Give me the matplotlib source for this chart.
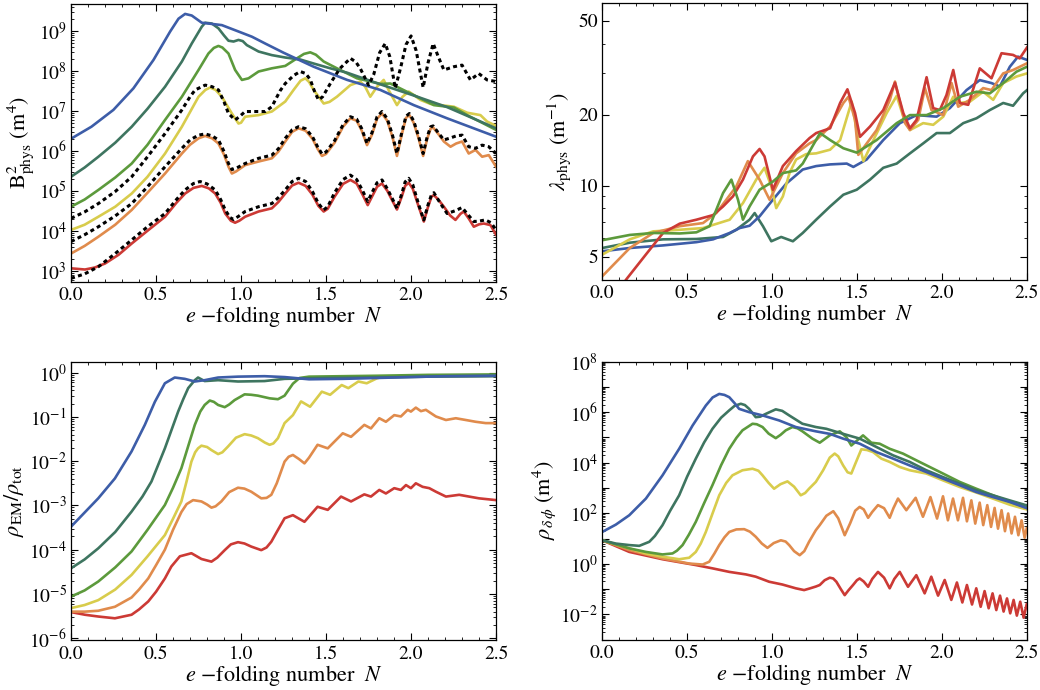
import numpy as np
import matplotlib
matplotlib.use("Agg")
import matplotlib.pyplot as plt
from matplotlib.ticker import (FixedLocator, FuncFormatter, LogLocator,
                               NullFormatter, MultipleLocator)

plt.rcParams["font.family"] = ["STIXGeneral", "DejaVu Serif"]
plt.rcParams["mathtext.fontset"] = "stix"
plt.rcParams["axes.linewidth"] = 0.9

C_BLUE = "#3D5DA8"
C_TEAL = "#3E7560"
C_GREEN = "#5C9A3C"
C_YELLOW = "#D8CC4C"
C_ORANGE = "#E08B4C"
C_RED = "#CC3A35"

# ---- panel 1: B^2_phys, values stored as log10 ----
b2_blue_N = [0, 0.12, 0.249, 0.367, 0.485, 0.583, 0.632, 0.671, 0.71, 0.769, 0.828, 0.887, 0.985, 1.064, 1.142, 1.25, 1.427, 1.624, 1.819, 2.016, 2.212, 2.5]
b2_blue = [6.30, 6.60, 7.02, 7.56, 8.27, 8.98, 9.30, 9.42, 9.38, 9.20, 9.17, 9.14, 8.98, 8.85, 8.68, 8.45, 8.10, 7.77, 7.52, 7.14, 6.81, 6.35]
b2_teal_N = [0, 0.08, 0.161, 0.26, 0.357, 0.45, 0.553, 0.652, 0.71, 0.769, 0.789, 0.828, 0.867, 0.90, 0.926, 0.956, 0.985, 1.01, 1.034, 1.103, 1.181, 1.26, 1.348, 1.427, 1.525, 1.624, 1.819, 2.016, 2.212, 2.5]
b2_teal = [5.35, 5.58, 5.85, 6.20, 6.60, 7.05, 7.60, 8.23, 8.68, 9.10, 9.20, 9.18, 9.06, 8.88, 8.75, 8.73, 8.77, 8.74, 8.64, 8.48, 8.39, 8.33, 8.28, 8.18, 8.06, 7.95, 7.66, 7.38, 7.09, 6.56]
b2_green_N = [0, 0.08, 0.161, 0.26, 0.357, 0.45, 0.553, 0.652, 0.75, 0.808, 0.84, 0.867, 0.89, 0.926, 0.965, 1.005, 1.044, 1.103, 1.181, 1.26, 1.329, 1.37, 1.407, 1.44, 1.486, 1.564, 1.682, 1.819, 1.878, 2.016, 2.134, 2.252, 2.33, 2.5]
b2_green = [4.60, 4.78, 5.02, 5.33, 5.68, 6.15, 6.77, 7.35, 8.02, 8.43, 8.57, 8.62, 8.58, 8.43, 8.02, 7.77, 7.81, 7.98, 8.06, 8.12, 8.31, 8.42, 8.46, 8.40, 8.23, 8.06, 7.81, 7.67, 7.68, 7.39, 7.14, 7.08, 6.89, 6.52]
b2_yellow_N = [0, 0.08, 0.161, 0.26, 0.357, 0.45, 0.553, 0.652, 0.75, 0.79, 0.818, 0.85, 0.887, 0.946, 0.985, 1.0, 1.024, 1.103, 1.181, 1.26, 1.309, 1.35, 1.378, 1.40, 1.427, 1.486, 1.52, 1.564, 1.643, 1.702, 1.73, 1.76, 1.80, 1.839, 1.87, 1.917, 1.95, 1.986, 2.02, 2.055, 2.114, 2.252, 2.33, 2.408, 2.447, 2.5]
b2_yellow = [4.02, 4.15, 4.35, 4.60, 4.93, 5.35, 5.93, 6.60, 7.35, 7.52, 7.58, 7.52, 7.35, 6.93, 6.68, 6.70, 6.85, 6.89, 6.98, 7.23, 7.52, 7.75, 7.81, 7.72, 7.52, 7.18, 7.22, 7.35, 7.64, 7.73, 7.60, 7.35, 7.60, 7.77, 7.50, 7.14, 7.35, 7.48, 7.38, 7.27, 7.17, 7.10, 6.95, 6.89, 6.73, 6.62]
b2_orange_N = [0, 0.08, 0.161, 0.26, 0.357, 0.45, 0.553, 0.652, 0.70, 0.75, 0.789, 0.83, 0.867, 0.90, 0.926, 0.946, 0.97, 1.024, 1.103, 1.181, 1.22, 1.26, 1.30, 1.338, 1.38, 1.42, 1.45, 1.476, 1.50, 1.55, 1.60, 1.643, 1.68, 1.71, 1.741, 1.77, 1.80, 1.829, 1.86, 1.89, 1.917, 1.945, 1.97, 1.99, 2.015, 2.045, 2.071, 2.095, 2.115, 2.13, 2.16, 2.193, 2.232, 2.265, 2.30, 2.339, 2.379, 2.418, 2.457, 2.5]
b2_orange = [3.43, 3.62, 3.85, 4.15, 4.52, 4.95, 5.43, 5.93, 6.15, 6.31, 6.37, 6.31, 6.18, 5.90, 5.60, 5.43, 5.48, 5.64, 5.73, 5.81, 5.98, 6.23, 6.47, 6.56, 6.50, 6.30, 6.05, 5.87, 5.92, 6.20, 6.60, 6.81, 6.75, 6.50, 6.14, 6.40, 6.80, 6.93, 6.75, 6.35, 5.87, 6.40, 6.82, 6.89, 6.70, 6.30, 5.87, 6.30, 6.55, 6.58, 6.42, 6.23, 6.10, 6.18, 6.23, 5.93, 6.02, 5.85, 5.89, 5.60]
b2_dot_mid = [3.73, 3.90, 4.10, 4.37, 4.68, 5.10, 5.60, 6.06, 6.27, 6.39, 6.42, 6.37, 6.27, 5.98, 5.68, 5.53, 5.56, 5.68, 5.81, 5.89, 6.05, 6.31, 6.52, 6.60, 6.55, 6.35, 6.10, 5.92, 5.97, 6.25, 6.65, 6.85, 6.79, 6.55, 6.18, 6.45, 6.85, 6.98, 6.80, 6.40, 5.93, 6.45, 6.86, 6.93, 6.75, 6.35, 5.93, 6.35, 6.60, 6.62, 6.45, 6.27, 6.32, 6.37, 6.39, 6.10, 6.06, 6.14, 6.10, 5.93]
b2_red_N = [0, 0.082, 0.14, 0.2, 0.28, 0.357, 0.45, 0.553, 0.62, 0.671, 0.72, 0.769, 0.81, 0.848, 0.88, 0.907, 0.94, 0.965, 0.99, 1.024, 1.103, 1.181, 1.22, 1.26, 1.30, 1.338, 1.38, 1.42, 1.455, 1.486, 1.51, 1.55, 1.60, 1.643, 1.68, 1.715, 1.745, 1.77, 1.80, 1.829, 1.86, 1.89, 1.917, 1.945, 1.965, 1.986, 2.01, 2.045, 2.075, 2.10, 2.12, 2.134, 2.16, 2.193, 2.23, 2.261, 2.29, 2.31, 2.34, 2.369, 2.40, 2.428, 2.467, 2.5]
b2_red = [3.06, 3.03, 3.08, 3.18, 3.40, 3.68, 4.00, 4.35, 4.70, 4.93, 5.07, 5.12, 5.06, 4.93, 4.70, 4.43, 4.25, 4.20, 4.25, 4.35, 4.48, 4.56, 4.72, 4.93, 5.13, 5.20, 5.12, 4.90, 4.62, 4.48, 4.55, 4.85, 5.17, 5.27, 5.18, 4.90, 4.64, 4.85, 5.10, 5.18, 5.00, 4.75, 4.53, 4.85, 5.12, 5.20, 5.05, 4.60, 4.23, 4.60, 4.85, 4.89, 4.78, 4.60, 4.38, 4.27, 4.42, 4.48, 4.30, 4.10, 4.16, 4.18, 4.14, 3.90]
b2_dot_bot_N = [0, 0.08, 0.161, 0.26, 0.357, 0.45, 0.553, 0.62, 0.671, 0.72, 0.759, 0.80, 0.848, 0.88, 0.907, 0.935, 0.956, 0.985, 1.024, 1.103, 1.181, 1.22, 1.26, 1.30, 1.338, 1.38, 1.42, 1.455, 1.486, 1.51, 1.55, 1.60, 1.643, 1.68, 1.715, 1.745, 1.77, 1.80, 1.829, 1.86, 1.89, 1.917, 1.945, 1.965, 1.986, 2.01, 2.045, 2.075, 2.10, 2.12, 2.134, 2.17, 2.212, 2.26, 2.30, 2.335, 2.369, 2.40, 2.437, 2.47, 2.5]
b2_dot_bot = [2.81, 2.92, 3.10, 3.43, 3.77, 4.10, 4.43, 4.78, 5.02, 5.18, 5.23, 5.17, 5.02, 4.78, 4.52, 4.33, 4.28, 4.36, 4.48, 4.60, 4.68, 4.83, 5.02, 5.23, 5.31, 5.23, 4.98, 4.68, 4.52, 4.60, 4.95, 5.28, 5.39, 5.28, 5.00, 4.73, 4.95, 5.20, 5.27, 5.05, 4.80, 4.56, 4.92, 5.22, 5.31, 5.15, 4.65, 4.27, 4.65, 4.90, 4.95, 4.70, 4.43, 4.50, 4.58, 4.40, 4.23, 4.24, 4.27, 4.20, 4.02]
b2_dot_top_N = [0, 0.08, 0.161, 0.26, 0.357, 0.45, 0.553, 0.652, 0.70, 0.73, 0.789, 0.83, 0.867, 0.90, 0.926, 0.965, 0.99, 1.024, 1.142, 1.181, 1.23, 1.26, 1.309, 1.348, 1.38, 1.407, 1.435, 1.456, 1.48, 1.525, 1.58, 1.643, 1.675, 1.702, 1.75, 1.78, 1.815, 1.848, 1.875, 1.907, 1.94, 1.97, 2.0, 2.03, 2.071, 2.10, 2.13, 2.16, 2.193, 2.252, 2.30, 2.349, 2.398, 2.447, 2.5]
b2_dot_top = [4.31, 4.47, 4.68, 4.98, 5.35, 5.85, 6.43, 7.02, 7.35, 7.52, 7.64, 7.60, 7.52, 7.22, 6.93, 6.77, 6.85, 6.98, 6.98, 7.10, 7.50, 7.68, 7.88, 7.98, 7.93, 7.78, 7.45, 7.27, 7.35, 7.68, 8.05, 8.31, 8.22, 8.05, 7.64, 7.90, 8.45, 8.68, 8.35, 7.56, 8.10, 8.65, 8.87, 8.50, 7.58, 8.20, 8.68, 8.35, 8.02, 8.10, 8.14, 7.77, 7.93, 7.77, 7.73]

# ---- panel 2: lambda_phys (m^-1) ----
lam_red_N = [0.0, 0.143, 0.26, 0.358, 0.456, 0.554, 0.652, 0.711, 0.769, 0.828, 0.887, 0.926, 0.955, 1.004, 1.063, 1.141, 1.220, 1.259, 1.341, 1.400, 1.443, 1.488, 1.517, 1.576, 1.654, 1.723, 1.772, 1.811, 1.850, 1.909, 1.948, 1.987, 2.026, 2.066, 2.105, 2.154, 2.222, 2.291, 2.350, 2.418, 2.457, 2.5]
lam_red = [2.9, 4.02, 5.14, 6.30, 6.9, 7.17, 7.5, 8.16, 9.0, 10.6, 13.3, 14.3, 13.3, 9.6, 12.1, 14.0, 15.9, 16.7, 17.5, 22.4, 25.6, 20.3, 16.1, 17.8, 20.9, 27.3, 20.3, 17.5, 19.0, 28.8, 21.3, 20.9, 24.2, 30.9, 22.4, 22.0, 31.4, 28.5, 36.4, 35.8, 34.6, 38.5]
lam_orange_N = [0, 0.162, 0.300, 0.456, 0.593, 0.671, 0.789, 0.857, 0.926, 0.985, 1.063, 1.141, 1.220, 1.259, 1.341, 1.419, 1.449, 1.488, 1.507, 1.615, 1.693, 1.723, 1.782, 1.811, 1.860, 1.899, 1.938, 2.007, 2.056, 2.095, 2.164, 2.242, 2.291, 2.360, 2.418, 2.5]
lam_orange = [4.13, 5.44, 6.30, 6.73, 6.94, 7.65, 9.92, 12.7, 10.6, 8.71, 11.3, 13.7, 15.1, 15.6, 17.8, 22.4, 23.8, 19.0, 13.5, 17.2, 23.1, 27.6, 18.4, 17.2, 19.0, 25.9, 20.9, 19.9, 27.2, 21.6, 23.1, 25.9, 25.4, 29.9, 30.9, 33.0]
lam_yellow_N = [0, 0.162, 0.300, 0.456, 0.593, 0.750, 0.828, 0.906, 0.955, 0.995, 1.024, 1.063, 1.102, 1.141, 1.200, 1.259, 1.341, 1.400, 1.468, 1.507, 1.537, 1.596, 1.674, 1.733, 1.772, 1.811, 1.889, 1.948, 2.007, 2.066, 2.105, 2.164, 2.242, 2.301, 2.360, 2.438, 2.5]
lam_yellow = [5.10, 5.92, 6.40, 6.50, 6.61, 7.17, 8.43, 10.6, 11.9, 9.92, 8.03, 9.0, 11.3, 12.9, 13.6, 13.7, 14.2, 15.6, 22.7, 15.6, 12.7, 15.6, 20.3, 24.0, 19.6, 17.2, 18.4, 18.1, 19.6, 23.8, 22.4, 22.7, 25.0, 23.1, 27.2, 29.0, 29.9]
lam_green_N = [0, 0.162, 0.300, 0.456, 0.554, 0.632, 0.711, 0.760, 0.799, 0.828, 0.867, 0.926, 1.004, 1.063, 1.141, 1.180, 1.24, 1.282, 1.341, 1.419, 1.498, 1.615, 1.733, 1.811, 1.909, 2.007, 2.105, 2.203, 2.281, 2.360, 2.438, 2.5]
lam_green = [5.87, 6.18, 6.30, 6.27, 6.34, 6.73, 9.30, 10.6, 8.71, 7.17, 8.16, 9.61, 10.4, 11.3, 11.6, 12.4, 14.8, 16.7, 15.6, 14.4, 13.8, 15.6, 18.4, 19.9, 19.9, 21.3, 23.8, 25.0, 24.6, 27.2, 30.4, 31.9]
lam_blue_N = [0, 0.162, 0.358, 0.554, 0.652, 0.750, 0.809, 0.867, 0.926, 1.004, 1.083, 1.180, 1.259, 1.341, 1.439, 1.478, 1.556, 1.654, 1.752, 1.850, 1.968, 2.046, 2.144, 2.222, 2.291, 2.340, 2.399, 2.447, 2.5]
lam_blue = [5.27, 5.44, 5.58, 5.76, 5.92, 6.30, 6.61, 6.76, 7.41, 8.71, 10.2, 11.7, 12.1, 12.3, 12.4, 12.0, 12.9, 15.6, 18.4, 19.9, 19.6, 21.3, 25.4, 28.0, 27.2, 26.3, 31.9, 35.2, 34.1]
lam_teal_N = [0, 0.162, 0.358, 0.554, 0.711, 0.789, 0.867, 0.897, 0.946, 0.995, 1.053, 1.122, 1.180, 1.259, 1.341, 1.419, 1.498, 1.576, 1.654, 1.733, 1.811, 1.889, 1.968, 2.046, 2.125, 2.203, 2.281, 2.360, 2.418, 2.477, 2.5]
lam_teal = [5.44, 5.73, 5.92, 5.94, 6.06, 6.50, 7.17, 7.65, 6.73, 5.81, 6.06, 5.81, 6.30, 7.17, 8.16, 9.15, 9.61, 10.6, 11.9, 12.4, 13.7, 15.1, 16.7, 16.7, 18.4, 19.3, 20.9, 22.4, 21.8, 24.6, 25.4]

# ---- panel 3: rho_EM / rho_tot, log10 ----
rem_blue_N = [0, 0.160, 0.258, 0.356, 0.434, 0.493, 0.552, 0.610, 0.669, 0.728, 0.786, 0.865, 0.982, 1.138, 1.256, 1.40, 1.6, 1.8, 2.0, 2.2, 2.5]
rem_blue = [-3.48, -2.84, -2.39, -1.78, -1.18, -0.66, -0.24, -0.11, -0.14, -0.20, -0.17, -0.11, -0.09, -0.08, -0.10, -0.15, -0.14, -0.12, -0.10, -0.08, -0.07]
rem_teal_N = [0, 0.08, 0.160, 0.26, 0.356, 0.42, 0.473, 0.552, 0.630, 0.66, 0.689, 0.728, 0.747, 0.786, 0.865, 0.982, 1.138, 1.256, 1.5, 1.8, 2.1, 2.5]
rem_teal = [-4.42, -4.22, -3.97, -3.60, -3.14, -2.80, -2.46, -1.71, -0.88, -0.60, -0.35, -0.17, -0.11, -0.19, -0.17, -0.20, -0.19, -0.14, -0.12, -0.11, -0.09, -0.08]
rem_green_N = [0, 0.08, 0.160, 0.26, 0.356, 0.45, 0.552, 0.60, 0.649, 0.69, 0.728, 0.76, 0.786, 0.816, 0.84, 0.865, 0.904, 0.93, 0.962, 1.021, 1.06, 1.099, 1.168, 1.217, 1.256, 1.305, 1.344, 1.40, 1.6, 1.8, 2.1, 2.5]
rem_green = [-5.06, -4.92, -4.72, -4.40, -4.04, -3.55, -2.99, -2.60, -2.16, -1.65, -1.18, -0.88, -0.73, -0.63, -0.66, -0.73, -0.78, -0.72, -0.62, -0.49, -0.50, -0.52, -0.58, -0.60, -0.52, -0.25, -0.12, -0.09, -0.08, -0.07, -0.05, -0.04]
rem_yellow_N = [0, 0.08, 0.160, 0.26, 0.356, 0.45, 0.552, 0.60, 0.649, 0.68, 0.708, 0.73, 0.747, 0.767, 0.80, 0.826, 0.865, 0.89, 0.923, 0.97, 1.021, 1.06, 1.099, 1.14, 1.168, 1.19, 1.217, 1.256, 1.305, 1.353, 1.406, 1.475, 1.524, 1.592, 1.631, 1.690, 1.739, 1.798, 1.837, 2.1, 2.5]
rem_yellow = [-5.32, -5.25, -5.14, -4.90, -4.57, -4.15, -3.67, -3.30, -2.91, -2.45, -2.01, -1.80, -1.71, -1.65, -1.68, -1.75, -1.84, -1.80, -1.67, -1.47, -1.39, -1.42, -1.48, -1.58, -1.63, -1.60, -1.48, -1.14, -0.96, -0.65, -0.77, -0.43, -0.50, -0.28, -0.35, -0.20, -0.24, -0.13, -0.09, -0.08, -0.07]
rem_orange_N = [0, 0.08, 0.160, 0.258, 0.356, 0.40, 0.454, 0.50, 0.552, 0.60, 0.649, 0.68, 0.718, 0.767, 0.80, 0.826, 0.85, 0.884, 0.93, 0.982, 1.02, 1.060, 1.119, 1.15, 1.178, 1.21, 1.256, 1.28, 1.305, 1.34, 1.373, 1.40, 1.450, 1.510, 1.598, 1.647, 1.725, 1.764, 1.813, 1.852, 1.901, 1.940, 1.980, 1.999, 2.028, 2.058, 2.087, 2.146, 2.205, 2.263, 2.322, 2.380, 2.439, 2.5]
rem_orange = [-5.40, -5.40, -5.38, -5.29, -5.08, -4.90, -4.65, -4.35, -4.00, -3.55, -3.15, -2.97, -2.88, -2.91, -2.98, -3.05, -3.02, -2.91, -2.70, -2.60, -2.62, -2.69, -2.84, -2.83, -2.76, -2.50, -2.01, -1.90, -1.86, -1.95, -2.05, -1.92, -1.63, -1.71, -1.37, -1.45, -1.18, -1.26, -1.03, -1.11, -0.96, -0.99, -0.84, -0.88, -0.79, -0.87, -0.84, -0.99, -1.07, -1.03, -1.07, -1.11, -1.14, -1.14]
rem_red_N = [0, 0.082, 0.160, 0.258, 0.356, 0.40, 0.454, 0.50, 0.552, 0.590, 0.640, 0.708, 0.767, 0.826, 0.86, 0.904, 0.94, 0.982, 1.02, 1.060, 1.119, 1.15, 1.178, 1.21, 1.256, 1.305, 1.373, 1.450, 1.510, 1.588, 1.647, 1.725, 1.764, 1.813, 1.852, 1.901, 1.940, 1.970, 1.999, 2.028, 2.068, 2.107, 2.146, 2.205, 2.283, 2.341, 2.400, 2.5]
rem_red = [-5.41, -5.47, -5.51, -5.55, -5.47, -5.35, -5.17, -4.95, -4.65, -4.38, -4.15, -4.08, -4.21, -4.27, -4.18, -4.01, -3.88, -3.83, -3.86, -3.93, -4.01, -3.95, -3.82, -3.60, -3.29, -3.22, -3.37, -3.03, -3.10, -2.80, -2.91, -2.75, -2.80, -2.65, -2.73, -2.61, -2.65, -2.54, -2.61, -2.50, -2.58, -2.61, -2.69, -2.80, -2.76, -2.80, -2.84, -2.88]

# ---- panel 4: rho_delta_phi, log10 ----
rdp_blue_N = [0, 0.08, 0.159, 0.257, 0.355, 0.453, 0.532, 0.610, 0.65, 0.689, 0.72, 0.748, 0.78, 0.806, 0.865, 0.944, 1.042, 1.140, 1.258, 1.340, 1.419, 1.517, 1.615, 1.713, 1.811, 1.909, 2.007, 2.105, 2.203, 2.301, 2.399, 2.5]
rdp_blue = [1.26, 1.55, 1.92, 2.58, 3.50, 4.55, 5.47, 6.26, 6.58, 6.72, 6.68, 6.59, 6.35, 6.13, 6.00, 5.87, 5.67, 5.41, 5.24, 5.14, 4.95, 4.75, 4.42, 4.16, 3.89, 3.63, 3.37, 3.11, 2.84, 2.64, 2.45, 2.20]
rdp_teal_N = [0, 0.080, 0.159, 0.218, 0.277, 0.31, 0.355, 0.40, 0.453, 0.50, 0.551, 0.60, 0.649, 0.70, 0.748, 0.78, 0.816, 0.84, 0.865, 0.904, 0.93, 0.963, 1.022, 1.06, 1.101, 1.179, 1.258, 1.320, 1.419, 1.517, 1.615, 1.713, 1.811, 1.909, 2.007, 2.105, 2.203, 2.301, 2.399, 2.5]
rdp_teal = [0.93, 0.80, 0.74, 0.71, 0.87, 1.10, 1.53, 2.10, 2.71, 3.45, 4.16, 4.80, 5.34, 5.78, 6.07, 6.25, 6.33, 6.28, 6.13, 5.80, 5.82, 5.93, 6.11, 6.05, 5.87, 5.54, 5.41, 5.34, 5.14, 4.95, 4.62, 4.29, 4.03, 3.70, 3.43, 3.17, 2.91, 2.71, 2.51, 2.31]
rdp_green_N = [0, 0.159, 0.257, 0.355, 0.414, 0.44, 0.473, 0.51, 0.551, 0.60, 0.649, 0.70, 0.748, 0.79, 0.826, 0.885, 0.91, 0.944, 0.98, 1.022, 1.05, 1.081, 1.120, 1.15, 1.179, 1.238, 1.281, 1.340, 1.399, 1.438, 1.467, 1.536, 1.585, 1.634, 1.693, 1.771, 1.869, 2.007, 2.105, 2.203, 2.301, 2.399, 2.5]
rdp_green = [0.93, 0.61, 0.47, 0.37, 0.41, 0.52, 0.74, 1.15, 1.66, 2.40, 3.11, 3.90, 4.55, 4.98, 5.28, 5.54, 5.52, 5.41, 5.15, 4.97, 5.10, 5.28, 5.41, 5.36, 5.24, 4.95, 4.79, 5.08, 5.24, 5.01, 4.68, 5.08, 4.79, 4.75, 4.55, 4.36, 4.03, 3.57, 3.24, 2.97, 2.71, 2.45, 2.24]
rdp_yellow_N = [0, 0.159, 0.257, 0.355, 0.453, 0.512, 0.551, 0.58, 0.610, 0.65, 0.689, 0.73, 0.767, 0.826, 0.885, 0.92, 0.944, 0.98, 1.012, 1.05, 1.091, 1.13, 1.169, 1.195, 1.218, 1.258, 1.301, 1.34, 1.369, 1.39, 1.419, 1.445, 1.467, 1.49, 1.526, 1.56, 1.595, 1.644, 1.693, 1.752, 1.811, 1.909, 2.007, 2.105, 2.203, 2.301, 2.399, 2.5]
rdp_yellow = [0.93, 0.61, 0.41, 0.28, 0.18, 0.24, 0.47, 0.80, 1.26, 2.00, 2.71, 3.20, 3.50, 3.70, 3.76, 3.68, 3.50, 3.20, 2.97, 3.15, 3.26, 3.05, 2.71, 2.80, 2.97, 3.24, 3.70, 4.20, 4.36, 4.25, 3.89, 3.62, 3.57, 3.95, 4.53, 4.50, 4.42, 4.16, 4.03, 3.83, 3.70, 3.57, 3.30, 3.04, 2.82, 2.58, 2.34, 2.15]
rdp_orange_N = [0, 0.159, 0.355, 0.512, 0.591, 0.630, 0.66, 0.689, 0.72, 0.748, 0.79, 0.836, 0.87, 0.904, 0.94, 0.973, 1.01, 1.052, 1.08, 1.101, 1.13, 1.163, 1.19, 1.218, 1.258, 1.281, 1.32, 1.361, 1.39, 1.428, 1.46, 1.49, 1.516, 1.54, 1.566, 1.59, 1.624, 1.66, 1.693, 1.715, 1.742, 1.791, 1.846, 1.889, 1.933, 1.972, 2.007, 2.036, 2.066, 2.095, 2.125, 2.148, 2.174, 2.197, 2.223, 2.244, 2.268, 2.290, 2.311, 2.331, 2.352, 2.372, 2.391, 2.411, 2.431, 2.451, 2.470, 2.488, 2.5]
rdp_orange = [0.93, 0.54, 0.21, 0.01, -0.03, 0.08, 0.40, 0.74, 1.05, 1.26, 1.36, 1.37, 1.27, 1.07, 0.80, 0.63, 0.82, 0.93, 0.88, 0.74, 0.50, 0.34, 0.50, 0.87, 1.33, 1.53, 1.90, 2.08, 1.80, 1.13, 1.60, 2.10, 2.25, 2.15, 1.82, 2.05, 2.32, 2.20, 1.82, 2.20, 2.58, 2.12, 2.61, 1.86, 2.64, 1.79, 2.67, 1.72, 2.58, 1.72, 2.61, 1.68, 2.51, 1.59, 2.42, 1.53, 2.32, 1.46, 2.21, 1.39, 2.12, 1.29, 1.99, 1.20, 1.86, 1.13, 1.72, 1.03, 1.40]
rdp_red_N = [0, 0.159, 0.355, 0.551, 0.649, 0.748, 0.846, 0.904, 0.983, 1.061, 1.140, 1.189, 1.22, 1.258, 1.281, 1.31, 1.340, 1.36, 1.379, 1.405, 1.428, 1.45, 1.477, 1.50, 1.516, 1.54, 1.566, 1.59, 1.624, 1.66, 1.693, 1.72, 1.752, 1.801, 1.850, 1.899, 1.938, 1.978, 2.017, 2.056, 2.089, 2.121, 2.148, 2.178, 2.203, 2.229, 2.252, 2.276, 2.299, 2.321, 2.343, 2.364, 2.384, 2.403, 2.423, 2.442, 2.462, 2.482, 2.5]
rdp_red = [0.93, 0.47, 0.18, -0.05, -0.18, -0.32, -0.42, -0.51, -0.71, -0.82, -0.97, -1.04, -0.98, -0.90, -0.84, -0.65, -0.55, -0.58, -0.71, -1.00, -1.24, -1.05, -0.84, -0.65, -0.58, -0.70, -0.91, -0.60, -0.32, -0.55, -0.97, -0.60, -0.32, -0.91, -0.45, -1.17, -0.51, -1.26, -0.64, -1.43, -0.74, -1.53, -0.84, -1.61, -0.97, -1.70, -1.08, -1.76, -1.17, -1.83, -1.26, -1.89, -1.37, -1.96, -1.43, -2.05, -1.50, -2.13, -1.60]

LW = 1.9


def pow10(v):
    return np.power(10.0, np.asarray(v, dtype=float))


def decade_fmt(skip_odd=False):
    def f(v, pos):
        e = int(round(np.log10(v)))
        if skip_odd and e % 2:
            return ""
        return r"$10^{%d}$" % e
    return FuncFormatter(f)


def style(ax):
    ax.set_xlim(0, 2.5)
    ax.xaxis.set_major_locator(MultipleLocator(0.5))
    ax.xaxis.set_minor_locator(MultipleLocator(0.1))
    ax.xaxis.set_major_formatter(FuncFormatter(lambda v, p: "%.1f" % v))
    ax.tick_params(which="both", direction="in", top=True, right=True,
                   labelsize=14, pad=3)
    ax.tick_params(axis="x", which="major", pad=4)
    ax.tick_params(which="major", length=5, width=0.8)
    ax.tick_params(which="minor", length=2.5, width=0.6)
    ax.set_xlabel(r"$e$ −folding number  $N$", fontsize=16, labelpad=0)


fig = plt.figure(figsize=(10.4, 6.9), dpi=100)
ax1 = fig.add_axes([0.0683, 0.5920, 0.4087, 0.4029])
ax2 = fig.add_axes([0.5791, 0.5949, 0.4084, 0.4012])
ax3 = fig.add_axes([0.0683, 0.0725, 0.4087, 0.4025])
ax4 = fig.add_axes([0.5791, 0.0730, 0.4081, 0.4030])

# panel 1
for n, v, c in [(b2_red_N, b2_red, C_RED), (b2_orange_N, b2_orange, C_ORANGE),
                (b2_yellow_N, b2_yellow, C_YELLOW), (b2_green_N, b2_green, C_GREEN),
                (b2_teal_N, b2_teal, C_TEAL), (b2_blue_N, b2_blue, C_BLUE)]:
    ax1.plot(n, pow10(v), color=c, lw=LW)
for n, v in [(b2_dot_top_N, b2_dot_top), (b2_orange_N, b2_dot_mid), (b2_dot_bot_N, b2_dot_bot)]:
    ax1.plot(n, pow10(v), color="black", lw=2.2, ls=(0, (1.3, 1.1)))
ax1.set_yscale("log")
ax1.set_ylim(10 ** 2.73, 10 ** 9.68)
ax1.yaxis.set_major_locator(FixedLocator(10.0 ** np.arange(3, 10)))
ax1.yaxis.set_major_formatter(decade_fmt())
ax1.yaxis.set_minor_locator(LogLocator(base=10, subs=np.arange(2, 10), numticks=50))
ax1.yaxis.set_minor_formatter(NullFormatter())
ax1.set_ylabel(r"$\mathrm{B}^2_{\mathrm{phys}}\ (\mathrm{m}^4)$", fontsize=16, labelpad=2)
style(ax1)

# panel 2
for n, v, c in [(lam_teal_N, lam_teal, C_TEAL), (lam_blue_N, lam_blue, C_BLUE),
                (lam_yellow_N, lam_yellow, C_YELLOW), (lam_orange_N, lam_orange, C_ORANGE),
                (lam_red_N, lam_red, C_RED), (lam_green_N, lam_green, C_GREEN)]:
    ax2.plot(n, v, color=c, lw=LW)
ax2.set_yscale("log")
ax2.set_ylim(4.0, 59.6)
ax2.yaxis.set_major_locator(FixedLocator([5, 10, 20, 50]))
ax2.yaxis.set_major_formatter(FuncFormatter(lambda v, p: "%d" % v))
ax2.yaxis.set_minor_locator(FixedLocator([4, 6, 7, 8, 9, 30, 40]))
ax2.yaxis.set_minor_formatter(NullFormatter())
ax2.set_ylabel(r"$\lambda_{\mathrm{phys}}\ (\mathrm{m}^{-1})$", fontsize=16, labelpad=4)
style(ax2)

# panel 3
for n, v, c in [(rem_red_N, rem_red, C_RED), (rem_orange_N, rem_orange, C_ORANGE),
                (rem_yellow_N, rem_yellow, C_YELLOW), (rem_green_N, rem_green, C_GREEN),
                (rem_teal_N, rem_teal, C_TEAL), (rem_blue_N, rem_blue, C_BLUE)]:
    ax3.plot(n, pow10(v), color=c, lw=LW)
ax3.set_yscale("log")
ax3.set_ylim(10 ** -6.04, 10 ** 0.235)
ax3.yaxis.set_major_locator(FixedLocator(10.0 ** np.arange(-6, 1)))
ax3.yaxis.set_major_formatter(decade_fmt())
ax3.yaxis.set_minor_locator(LogLocator(base=10, subs=np.arange(2, 10), numticks=50))
ax3.yaxis.set_minor_formatter(NullFormatter())
ax3.set_ylabel(r"$\rho_{\mathrm{EM}}/\rho_{\mathrm{tot}}$", fontsize=16, labelpad=2)
style(ax3)

# panel 4
for n, v, c in [(rdp_red_N, rdp_red, C_RED), (rdp_orange_N, rdp_orange, C_ORANGE),
                (rdp_yellow_N, rdp_yellow, C_YELLOW), (rdp_green_N, rdp_green, C_GREEN),
                (rdp_teal_N, rdp_teal, C_TEAL), (rdp_blue_N, rdp_blue, C_BLUE)]:
    ax4.plot(n, pow10(v), color=c, lw=LW)
ax4.set_yscale("log")
ax4.set_ylim(1e-3, 1e8)
ax4.yaxis.set_major_locator(FixedLocator(10.0 ** np.arange(-3, 9)))
ax4.yaxis.set_major_formatter(decade_fmt(skip_odd=True))
ax4.yaxis.set_minor_locator(LogLocator(base=10, subs=np.arange(2, 10), numticks=50))
ax4.yaxis.set_minor_formatter(NullFormatter())
ax4.set_ylabel(r"$\rho_{\delta\,\phi}\ (\mathrm{m}^4)$", fontsize=16, labelpad=2)
style(ax4)

fig.savefig("out.png", dpi=100)
